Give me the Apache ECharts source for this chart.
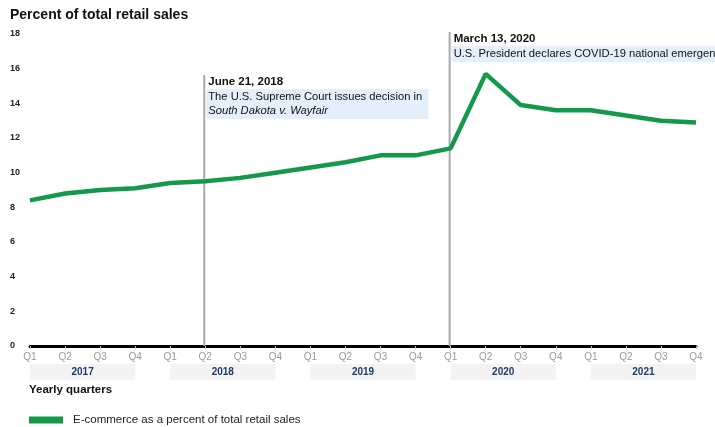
<!DOCTYPE html>
<html>
<head>
<meta charset="utf-8">
<script src="https://cdn.jsdelivr.net/npm/echarts@6/dist/echarts.min.js"></script>
<style>
  html, body { margin: 0; padding: 0; background: #fff; }
  #main { width: 715px; height: 427px; }
</style>
</head>
<body>
<div id="main"></div>
<script>
// data
var years = ['2017', '2018', '2019', '2020', '2021'];
var quarters = ['Q1', 'Q2', 'Q3', 'Q4'];
var ecommerceShare = [8.4, 8.8, 9.0, 9.1, 9.4, 9.5, 9.7, 10.0, 10.3, 10.6, 11.0, 11.0, 11.4, 15.7, 13.9, 13.6, 13.6, 13.3, 13.0, 12.9];
var yTicks = [0, 2, 4, 6, 8, 10, 12, 14, 16, 18];
// events: category index, title, body lines
var eventIndex = [5, 12];
var eventTitles = ['June 21, 2018', 'March 13, 2020'];
var eventBodies = [
  ['The U.S. Supreme Court issues decision in', '{i|South Dakota v. Wayfair}'],
  ['U.S. President declares COVID-19 national emergency']
];

var categories = [];
years.forEach(function (y) {
  quarters.forEach(function (q) { categories.push(y + ' ' + q); });
});

var GREEN = '#13994a';
var FONT = 'Liberation Sans, Arial, sans-serif';

// style only
var eventLook = [
  { lineTop: 75, boxW: 222 },
  { lineTop: 32, boxW: 270 }
];

var chart = echarts.init(document.getElementById('main'), null, { renderer: 'canvas' });

var option = {
  animation: false,
  textStyle: { fontFamily: FONT },
  grid: { left: 30, right: 19, top: 34, bottom: 81 },
  legend: {
    left: 24, top: 409,
    icon: 'rect', itemWidth: 34, itemHeight: 7,
    textStyle: { fontSize: 11.5, color: '#222', fontFamily: FONT, padding: [0, 0, 0, 5] },
    data: ['E-commerce as a percent of total retail sales']
  },
  graphic: [
    { type: 'text', left: 10, top: 8, style: { text: 'Percent of total retail sales', font: 'bold 14px ' + FONT, fill: '#111' } },
    { type: 'text', left: 29, top: 384, style: { text: 'Yearly quarters', font: 'bold 11.5px ' + FONT, fill: '#111' } }
  ],
  xAxis: {
    type: 'category',
    data: categories,
    boundaryGap: false,
    axisLine: { lineStyle: { color: '#000', width: 3 } },
    axisTick: { show: true, length: 3, lineStyle: { color: '#bbb' }, alignWithLabel: true },
    axisLabel: {
      color: '#999', fontSize: 10, margin: 6, interval: 0,
      formatter: function (v) { return v.split(' ')[1]; }
    },
    splitLine: { show: false }
  },
  yAxis: {
    type: 'value',
    min: yTicks[0], max: yTicks[yTicks.length - 1], interval: 2,
    axisLine: { show: false },
    axisTick: { show: false },
    splitLine: { show: false },
    axisLabel: { color: '#222', fontSize: 9, fontWeight: 'bold', align: 'left', margin: 20 }
  },
  series: [
    {
      // year bands under the quarter labels
      type: 'custom',
      silent: true,
      clip: false,
      z: 1,
      data: years.map(function (y, i) { return [i * 4, i * 4 + 3, y]; }),
      renderItem: function (params, api) {
        var a = api.coord([api.value(0), 0]);
        var b = api.coord([api.value(1), 0]);
        var top = a[1] + 18;
        return {
          type: 'group',
          children: [
            { type: 'rect', shape: { x: a[0], y: top, width: b[0] - a[0], height: 16 }, style: { fill: '#f3f3f3' } },
            { type: 'text', style: {
                x: (a[0] + b[0]) / 2, y: top + 8, text: years[params.dataIndex],
                align: 'center', verticalAlign: 'middle',
                font: 'bold 10px ' + FONT, fill: '#1d3a6b' } }
          ]
        };
      }
    },
    {
      // event markers
      type: 'custom',
      silent: true,
      clip: false,
      z: 2,
      data: eventIndex.map(function (x) { return [x, 0]; }),
      renderItem: function (params, api) {
        var i = params.dataIndex;
        var base = api.coord([api.value(0), 0]);
        var look = eventLook[i];
        var x = base[0] - 1;
        var lines = eventBodies[i];
        var boxTop = look.lineTop + 14;
        return {
          type: 'group',
          children: [
            { type: 'line', shape: { x1: x, y1: look.lineTop, x2: x, y2: base[1] }, style: { stroke: '#aaa', lineWidth: 2 } },
            { type: 'rect', shape: { x: x + 2, y: boxTop, width: look.boxW, height: lines.length * 14 + 2 }, style: { fill: '#e3f0fc' } },
            { type: 'text', style: { x: x + 4, y: look.lineTop + 7, text: eventTitles[i], verticalAlign: 'middle', font: 'bold 11.5px ' + FONT, fill: '#111' } },
            { type: 'text', style: {
                x: x + 4, y: boxTop + 1, text: lines.join('\n'), verticalAlign: 'top',
                font: '11.2px ' + FONT, fill: '#111', lineHeight: 14,
                rich: { i: { fontStyle: 'italic', fontSize: 11.2, fontFamily: FONT, lineHeight: 14 } } } }
          ]
        };
      }
    },
    {
      name: 'E-commerce as a percent of total retail sales',
      type: 'line',
      z: 3,
      data: ecommerceShare,
      symbol: 'none',
      lineStyle: { color: GREEN, width: 4.5 },
      itemStyle: { color: GREEN }
    }
  ]
};

chart.setOption(option);
</script>
</body>
</html>
